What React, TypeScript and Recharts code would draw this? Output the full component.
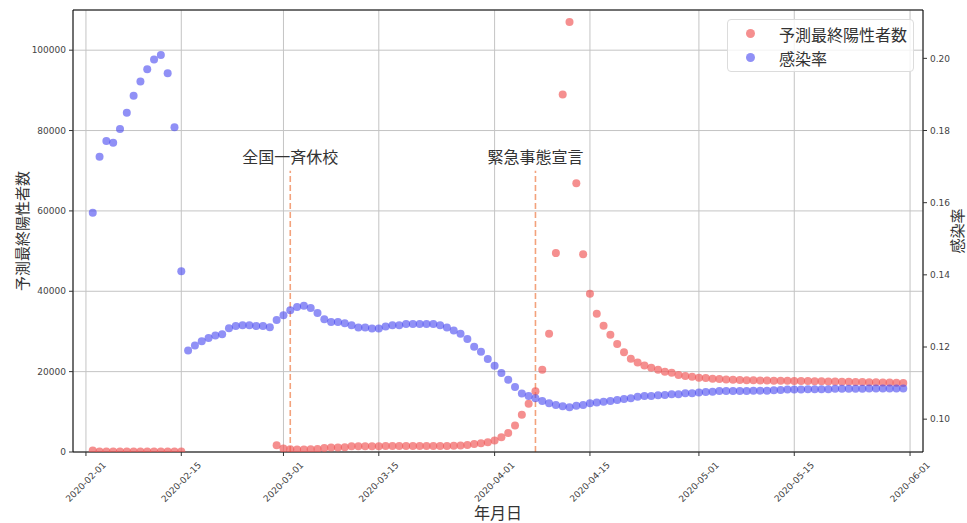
import React from 'react';
import {
  ScatterChart,
  Scatter,
  XAxis,
  YAxis,
  CartesianGrid,
  ReferenceLine,
  Label,
} from 'recharts';

// day index 1..120 = 2020-02-02 .. 2020-05-31 (day 0 = 2020-02-01)
const days: number[] = Array.from({ length: 120 }, (_, i) => i + 1);

// 予測最終陽性者数 (left axis), null = no value
const finalPositives: (number | null)[] = [
  400, 100, 100, 100, 100, 100, 100, 100, 100, 100, 100, 100, 100, 100,
  null, null, null, null, null, null, null, null, null, null, null, null, null,
  1650, 850, 700, 650, 650, 700, 750, 1000, 1100, 1100, 1200, 1400, 1400, 1450,
  1450, 1450, 1500, 1500, 1500, 1500, 1500, 1500, 1500, 1500, 1500, 1500, 1550,
  1600, 1750, 2000, 2200, 2400, 2850, 3650, 4700, 6600, 9300, 12000, 15100,
  20500, 29400, 49500, 89000, 107000, 66900, 49200, 39400, 34400, 31400, 29150,
  26850, 24850, 23200, 22250, 21500, 20950, 20450, 20000, 19700, 19150, 18900,
  18700, 18500, 18400, 18250, 18150, 18050, 17950, 17900, 17850, 17830, 17800,
  17780, 17760, 17740, 17720, 17700, 17670, 17640, 17610, 17580, 17550, 17520,
  17490, 17460, 17430, 17400, 17370, 17340, 17300, 17270, 17230, 17200,
];

// 感染率 (right axis)
const infectionRate: number[] = [
  0.1572, 0.1727, 0.1771, 0.1766, 0.1804, 0.1849, 0.1896, 0.1936, 0.197, 0.1997,
  0.2009, 0.1959, 0.1809, 0.141, 0.119, 0.1204, 0.1216, 0.1225, 0.1232, 0.1235,
  0.1252, 0.1258, 0.126, 0.126, 0.1258, 0.1258, 0.1255, 0.1275, 0.1288, 0.1302,
  0.1311, 0.1314, 0.1308, 0.1294, 0.1277, 0.1269, 0.1269, 0.1266, 0.126, 0.1254,
  0.1254, 0.1251, 0.1251, 0.1257, 0.126, 0.126, 0.1264, 0.1264, 0.1264, 0.1264,
  0.1264, 0.126, 0.1254, 0.1246, 0.1237, 0.1222, 0.1201, 0.1187, 0.1167, 0.1148,
  0.1128, 0.1109, 0.1089, 0.1071, 0.1064, 0.1058, 0.105, 0.1044, 0.1039, 0.1036,
  0.1033, 0.1037, 0.1039, 0.1044, 0.1046, 0.1048, 0.105, 0.1053, 0.1056, 0.1058,
  0.1062, 0.1064, 0.1064, 0.1066, 0.1067, 0.1069, 0.1069, 0.1072, 0.1072, 0.1074,
  0.1075, 0.1076, 0.1078, 0.1078, 0.1078, 0.1078, 0.1078, 0.1079, 0.1079, 0.1079,
  0.108, 0.1081, 0.1082, 0.1082, 0.1082, 0.1083, 0.1083, 0.1083, 0.1083, 0.1084,
  0.1084, 0.1084, 0.1084, 0.1084, 0.1085, 0.1085, 0.1085, 0.1085, 0.1085, 0.1085,
];

const xTicks = [0, 14, 29, 43, 60, 74, 90, 104, 121];
const leftTicks = [0, 20000, 40000, 60000, 80000, 100000];
const rightTicks = [0.1, 0.12, 0.14, 0.16, 0.18, 0.2];

const events = [
  { day: 30, label: '全国一斉休校' },
  { day: 66, label: '緊急事態宣言' },
];

const START = Date.UTC(2020, 1, 1);
const fmtDay = (d: number) => new Date(START + d * 86400000).toISOString().slice(0, 10);

const redPoints = days
  .map((d, i) => ({ day: d, value: finalPositives[i] }))
  .filter((p) => p.value !== null);
const bluePoints = days.map((d, i) => ({ day: d, value: infectionRate[i] }));

const CJK = '"Noto Sans CJK JP", "Noto Sans", sans-serif';
const TICK_FONT = '"DejaVu Sans", sans-serif';
const RED = 'rgba(240, 85, 85, 0.66)';
const BLUE = 'rgba(70, 70, 240, 0.6)';

const DateTick = (props: any) => {
  const { x, y, payload } = props;
  const cy = y + 24;
  return (
    <text
      x={x}
      y={cy}
      textAnchor="middle"
      dominantBaseline="central"
      transform={`rotate(-45, ${x}, ${cy})`}
      fontSize={9}
      fill="#444"
      fontFamily={TICK_FONT}
    >
      {fmtDay(payload.value)}
    </text>
  );
};

const dot = (color: string) => (p: any) => <circle cx={p.cx} cy={p.cy} r={4} fill={color} />;

const LegendBox = () => (
  <div
    style={{
      position: 'absolute',
      left: 727,
      top: 19,
      width: 187,
      height: 53,
      boxSizing: 'border-box',
      border: '1px solid #dcdcdc',
      borderRadius: 4,
      background: 'rgba(255,255,255,0.8)',
      fontFamily: CJK,
      fontSize: 16,
      color: '#333',
    }}
  >
    {[
      { name: '予測最終陽性者数', color: RED, top: 14 },
      { name: '感染率', color: BLUE, top: 38 },
    ].map((e) => (
      <div key={e.name}>
        <span
          style={{
            position: 'absolute',
            left: 18,
            top: e.top - 5,
            width: 9,
            height: 9,
            borderRadius: '50%',
            background: e.color,
          }}
        />
        <span style={{ position: 'absolute', left: 51, top: e.top - 12, lineHeight: '24px', whiteSpace: 'nowrap' }}>
          {e.name}
        </span>
      </div>
    ))}
  </div>
);

export default function App() {
  return (
    <div style={{ position: 'absolute', left: 0, top: 0, width: 967, height: 523, background: '#fff' }}>
      <ScatterChart width={967} height={523} margin={{ top: 10, right: 0, bottom: 0, left: 0 }}>
        <CartesianGrid yAxisId="left" stroke="#c4c4c4" strokeWidth={1} />
        <XAxis
          type="number"
          dataKey="day"
          domain={[-1.9, 122.9]}
          ticks={xTicks}
          tick={<DateTick />}
          tickSize={4}
          tickMargin={2}
          height={71}
          stroke="#000"
          tickLine={{ stroke: '#333' }}
          allowDataOverflow
        >
          <Label
            content={(p: any) => (
              <text
                x={p.viewBox.x + p.viewBox.width / 2}
                y={p.viewBox.y + 67}
                textAnchor="middle"
                fontSize={16}
                fill="#333"
                fontFamily={CJK}
              >
                年月日
              </text>
            )}
          />
        </XAxis>
        <YAxis
          yAxisId="left"
          type="number"
          dataKey="value"
          domain={[0, 110000]}
          ticks={leftTicks}
          width={73}
          tickSize={4}
          tickMargin={3}
          stroke="#000"
          tickLine={{ stroke: '#333' }}
          tick={{ fontSize: 9, fill: '#444', fontFamily: TICK_FONT }}
          allowDataOverflow
        >
          <Label
            content={(p: any) => {
              const cx = 21;
              const cy = p.viewBox.y + p.viewBox.height / 2;
              return (
                <text
                  x={cx}
                  y={cy}
                  textAnchor="middle"
                  dominantBaseline="central"
                  transform={`rotate(-90, ${cx}, ${cy})`}
                  fontSize={15}
                  fill="#333"
                  fontFamily={CJK}
                >
                  予測最終陽性者数
                </text>
              );
            }}
          />
        </YAxis>
        <YAxis
          yAxisId="right"
          orientation="right"
          type="number"
          dataKey="value"
          domain={[0.0909, 0.2134]}
          ticks={rightTicks}
          tickFormatter={(v: number) => v.toFixed(2)}
          width={44}
          tickSize={4}
          tickMargin={3}
          stroke="#000"
          tickLine={{ stroke: '#333' }}
          tick={{ fontSize: 9, fill: '#444', fontFamily: TICK_FONT }}
          allowDataOverflow
        >
          <Label
            content={(p: any) => {
              const cx = p.viewBox.x + 33;
              const cy = p.viewBox.y + p.viewBox.height / 2;
              return (
                <text
                  x={cx}
                  y={cy}
                  textAnchor="middle"
                  dominantBaseline="central"
                  transform={`rotate(-90, ${cx}, ${cy})`}
                  fontSize={15}
                  fill="#333"
                  fontFamily={CJK}
                >
                  感染率
                </text>
              );
            }}
          />
        </YAxis>
        <ReferenceLine yAxisId="left" y={110000} stroke="#000" strokeWidth={1} />
        {events.map((e) => (
          <ReferenceLine
            key={e.label}
            yAxisId="left"
            segment={[
              { x: e.day, y: 0 },
              { x: e.day, y: 70000 },
            ]}
            stroke="#f3a27c"
            strokeWidth={1.6}
            strokeDasharray="6 3"
            label={{
              content: (p: any) => (
                <text
                  x={p.viewBox.x + (p.viewBox.width || 0) / 2}
                  y={p.viewBox.y - 8}
                  textAnchor="middle"
                  fontSize={16}
                  fill="#333"
                  fontFamily={CJK}
                >
                  {e.label}
                </text>
              ),
            }}
          />
        ))}
        <Scatter
          name="予測最終陽性者数"
          yAxisId="left"
          data={redPoints}
          fill={RED}
          shape={dot(RED)}
          isAnimationActive={false}
        />
        <Scatter
          name="感染率"
          yAxisId="right"
          data={bluePoints}
          fill={BLUE}
          shape={dot(BLUE)}
          isAnimationActive={false}
        />
      </ScatterChart>
      <LegendBox />
    </div>
  );
}
